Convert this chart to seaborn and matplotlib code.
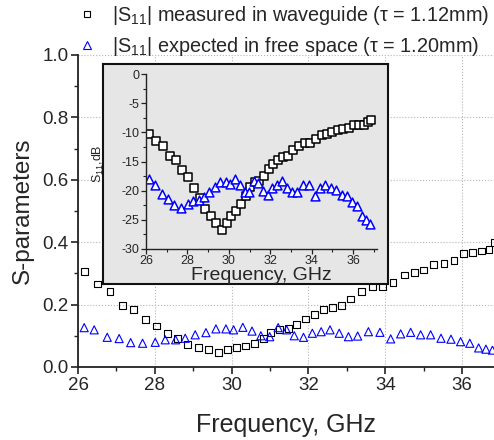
import numpy as np
import pandas as pd
import seaborn as sns
import matplotlib
matplotlib.use("Agg")
import matplotlib.pyplot as plt
from matplotlib.lines import Line2D
from matplotlib.ticker import MultipleLocator

# ---------------- data ----------------
freq_meas = [26.16, 26.50, 26.83, 27.15, 27.45, 27.76, 28.05, 28.33, 28.59, 28.86,
             29.13, 29.40, 29.65, 29.89, 30.12, 30.36, 30.60, 30.82, 31.02, 31.25,
             31.47, 31.69, 31.92, 32.15, 32.39, 32.62, 32.85, 33.10, 33.37, 33.66,
             33.93, 34.20, 34.49, 34.75, 35.00, 35.26, 35.53, 35.79, 36.03, 36.27,
             36.50, 36.70, 36.85]
s11_meas = [0.307, 0.266, 0.243, 0.198, 0.183, 0.151, 0.131, 0.106, 0.091, 0.071,
            0.063, 0.056, 0.047, 0.056, 0.063, 0.067, 0.076, 0.090, 0.111, 0.119,
            0.122, 0.135, 0.154, 0.167, 0.183, 0.190, 0.197, 0.218, 0.241, 0.257,
            0.257, 0.272, 0.295, 0.303, 0.311, 0.329, 0.331, 0.341, 0.364, 0.366,
            0.372, 0.377, 0.400]
freq_free = [26.16, 26.42, 26.76, 27.07, 27.37, 27.68, 28.01, 28.27, 28.54, 28.79,
             29.05, 29.33, 29.59, 29.85, 30.05, 30.29, 30.53, 30.76, 30.99, 31.21,
             31.43, 31.63, 31.87, 32.10, 32.33, 32.56, 32.80, 33.04, 33.28, 33.56,
             33.86, 34.14, 34.40, 34.66, 34.92, 35.18, 35.45, 35.71, 35.96, 36.20,
             36.43, 36.62, 36.79]
s11_free = [0.126, 0.119, 0.095, 0.091, 0.078, 0.076, 0.079, 0.087, 0.087, 0.092,
            0.103, 0.110, 0.122, 0.122, 0.119, 0.127, 0.115, 0.100, 0.097, 0.126,
            0.119, 0.100, 0.095, 0.108, 0.113, 0.119, 0.108, 0.097, 0.099, 0.113,
            0.111, 0.090, 0.106, 0.111, 0.103, 0.103, 0.092, 0.089, 0.081, 0.076,
            0.061, 0.057, 0.054]
# inset values in dB
s11_meas_db = [-10.3, -11.5, -12.3, -14.1, -14.8, -16.5, -17.6, -19.6, -21.2, -23.1,
               -24.4, -25.6, -26.8, -25.6, -24.3, -23.5, -22.3, -21.0, -19.3, -18.5,
               -18.3, -17.4, -16.3, -15.5, -14.7, -14.3, -14.1, -13.1, -12.3, -11.8,
               -11.8, -11.2, -10.5, -10.3, -10.0, -9.6, -9.5, -9.3, -8.8, -8.7,
               -8.7, -8.3, -7.9]
s11_free_db = [-18.0, -19.1, -20.6, -21.4, -22.4, -22.9, -22.3, -21.7, -21.6, -21.1,
               -20.2, -19.3, -18.5, -18.5, -18.8, -18.0, -19.1, -20.2, -20.3, -18.3,
               -18.7, -20.1, -20.7, -19.5, -19.0, -18.4, -19.5, -20.3, -20.2, -19.1,
               -19.1, -21.0, -19.6, -19.0, -19.6, -19.9, -20.8, -21.0, -21.9, -22.7,
               -24.4, -25.0, -25.7]
legend_labels = ["|S$_{11}$| measured in waveguide (\u03c4 = 1.12mm)",
                 "|S$_{11}$| expected in free space (\u03c4 = 1.20mm)"]
x_label = "Frequency, GHz"
y_label = "S-parameters"
inset_y_label = "S$_{11}$,dB"

meas = pd.DataFrame({"f": freq_meas, "s": s11_meas})
free = pd.DataFrame({"f": freq_free, "s": s11_free})
meas_db = pd.DataFrame({"f": freq_meas, "s": s11_meas_db})
free_db = pd.DataFrame({"f": freq_free, "s": s11_free_db})

# ---------------- style ----------------
sns.set_theme(style="ticks")
plt.rcParams["font.family"] = ["Liberation Sans", "DejaVu Sans"]
plt.rcParams["axes.unicode_minus"] = False
plt.rcParams["mathtext.default"] = "regular"

BLUE = "#0000ff"
fig = plt.figure(figsize=(4.94, 4.4), dpi=100)

# ---------------- main axes ----------------
ax = fig.add_axes([0.158, 0.166, 0.842, 0.709])
ax.set_axisbelow(True)
ax.grid(True, which="major", ls=":", color="#b5b5b5", lw=0.8)
sns.scatterplot(data=meas, x="f", y="s", ax=ax, marker="s", s=24,
                facecolors="none", edgecolor="black", linewidth=0.8, clip_on=True)
sns.scatterplot(data=free, x="f", y="s", ax=ax, marker="^", s=34,
                facecolors="none", edgecolor=BLUE, linewidth=0.8, clip_on=True)
ax.set_xlim(26, 36.83)
ax.set_ylim(0, 1.0)
ax.xaxis.set_major_locator(MultipleLocator(2))
ax.xaxis.set_minor_locator(MultipleLocator(1))
ax.yaxis.set_major_locator(MultipleLocator(0.2))
ax.yaxis.set_minor_locator(MultipleLocator(0.1))
ax.yaxis.set_major_formatter(matplotlib.ticker.FormatStrFormatter("%.1f"))
for sp in ["top", "right"]:
    ax.spines[sp].set_visible(False)
for sp in ["left", "bottom"]:
    ax.spines[sp].set_color("#222222")
    ax.spines[sp].set_linewidth(1.3)
ax.tick_params(which="major", direction="out", length=5, width=1.2,
               labelsize=13.5, color="#222222", pad=2)
ax.tick_params(which="minor", direction="out", length=3, width=1.0, color="#222222")
ax.set_xlabel(x_label, fontsize=18, labelpad=14)
ax.set_ylabel(y_label, fontsize=17.5, labelpad=6)

# legend above the plot
handles = [Line2D([], [], ls="none", marker="s", ms=4.5, mfc="none", mec="black", mew=0.8),
           Line2D([], [], ls="none", marker="^", ms=5.5, mfc="none", mec=BLUE, mew=0.8)]
fig.legend(handles, legend_labels, loc="upper left", bbox_to_anchor=(0.16, 0.992),
           frameon=False, fontsize=14.3, handlelength=0.85, handletextpad=0.8,
           labelspacing=0.42, borderpad=0, borderaxespad=0)

# ---------------- inset ----------------
box = fig.add_axes([0.2085, 0.3545, 0.5769, 0.5])
box.set_facecolor("#e6e6e6")
box.set_xticks([])
box.set_yticks([])
for sp in box.spines.values():
    sp.set_color("#111111")
    sp.set_linewidth(1.5)

ins = fig.add_axes([0.2955, 0.4341, 0.4676, 0.3977])
ins.patch.set_alpha(0)
sns.scatterplot(data=meas_db, x="f", y="s", ax=ins, marker="s", s=30,
                facecolors="white", edgecolor="black", linewidth=1.1)
sns.scatterplot(data=free_db, x="f", y="s", ax=ins, marker="^", s=40,
                facecolors="white", edgecolor=BLUE, linewidth=1.1)
ins.set_xlim(26, 37.15)
ins.set_ylim(-30, 0)
ins.xaxis.set_major_locator(MultipleLocator(2))
ins.xaxis.set_minor_locator(MultipleLocator(1))
ins.yaxis.set_major_locator(MultipleLocator(5))
ins.yaxis.set_minor_locator(MultipleLocator(2.5))
for sp in ["top", "right"]:
    ins.spines[sp].set_visible(False)
for sp in ["left", "bottom"]:
    ins.spines[sp].set_color("#222222")
    ins.spines[sp].set_linewidth(1.0)
ins.tick_params(which="major", direction="out", length=3.5, width=0.9,
                labelsize=9, color="#222222", pad=1)
ins.tick_params(which="minor", direction="out", length=2, width=0.8, color="#222222")
ins.set_xlabel(x_label, fontsize=14, labelpad=0)
ins.set_ylabel(inset_y_label, fontsize=9)
ins.yaxis.set_label_coords(-0.175, 0.49)

fig.savefig("out.png", dpi=100)
